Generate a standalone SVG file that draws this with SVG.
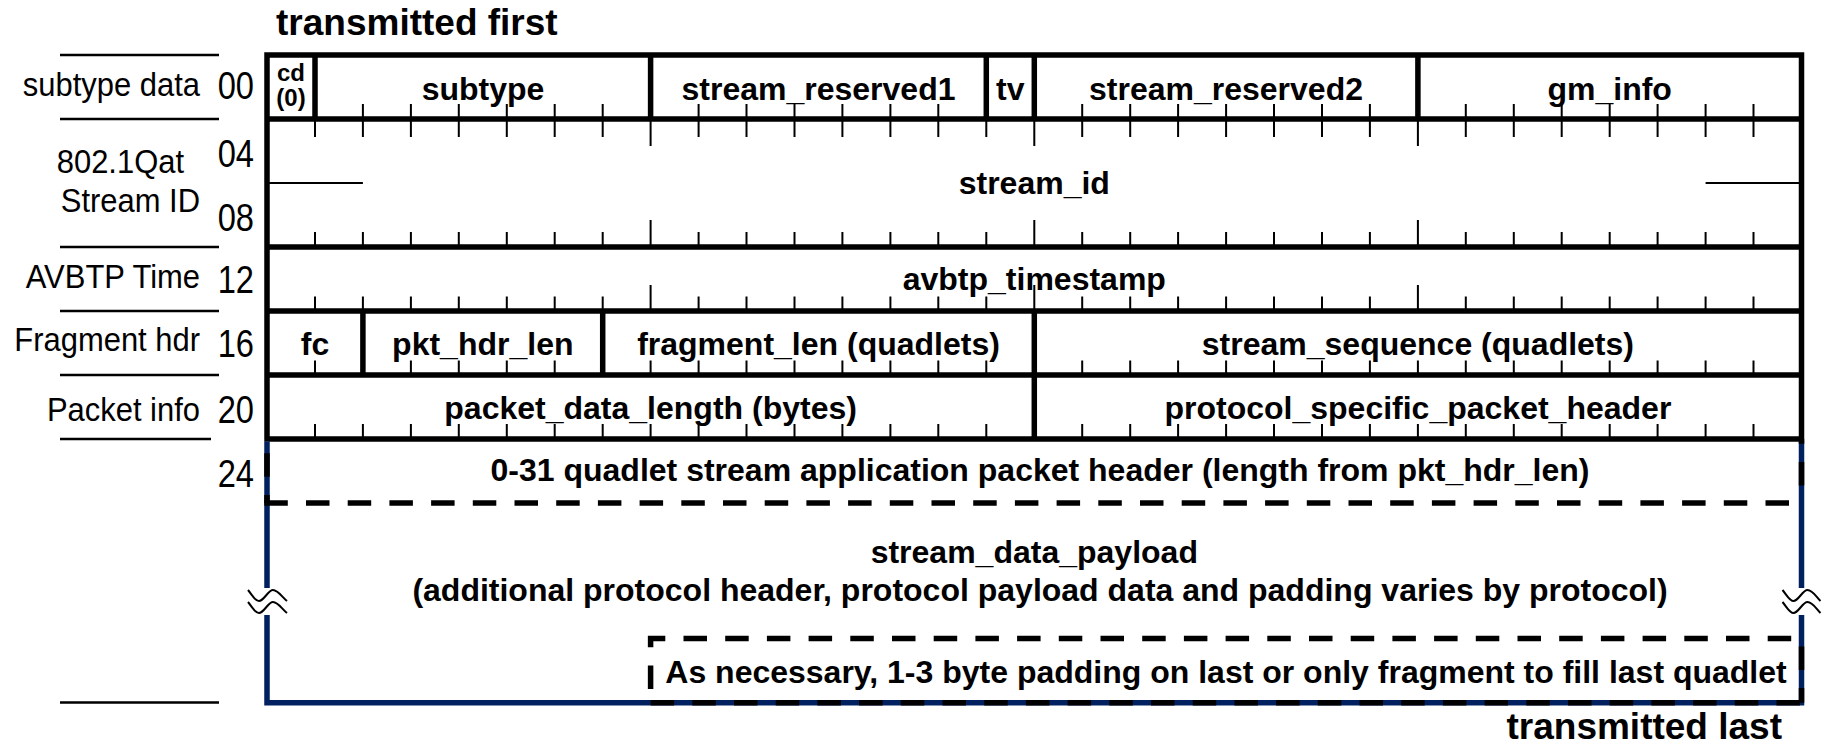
<svg xmlns="http://www.w3.org/2000/svg" width="1824" height="744" viewBox="0 0 1824 744">
<style>
.lbl{font-family:"Liberation Sans",Arial,sans-serif;font-size:34px;fill:#000;text-anchor:end}
.num{font-family:"Liberation Sans",Arial,sans-serif;font-size:38px;fill:#000;text-anchor:end}
.fld{font-family:"Liberation Sans",Arial,sans-serif;font-size:32px;font-weight:bold;fill:#000;text-anchor:middle}
.big{font-family:"Liberation Sans",Arial,sans-serif;font-size:37px;font-weight:bold;fill:#000}
.small{font-family:"Liberation Sans",Arial,sans-serif;font-size:24px;font-weight:bold;fill:#000;text-anchor:middle}
.sep{stroke:#000;stroke-width:2.5;fill:none}
.border{stroke:#000;stroke-width:5.5;fill:none}
.tick{stroke:#000;stroke-width:2;fill:none}
.navy{stroke:#002060;stroke-width:5.5;fill:none}
.dash{stroke:#000;stroke-width:5.5;fill:none;stroke-dasharray:23.5 18.2}
.wave{stroke:#000;stroke-width:2;fill:none}
</style>
<rect width="1824" height="744" fill="#fff"/>

<g id="titles">
<text class="big" x="276" y="35">transmitted first</text>
<text class="big" x="1782" y="739" text-anchor="end">transmitted last</text>
</g>

<g id="row-labels">
<path class="sep" d="M60,55 H219 M60,119 H219 M60,247 H219 M60,311 H219 M60,375 H219 M60,439 H211 M60,702.5 H219"/>
<text class="lbl" transform="translate(200,96) scale(0.91,1)">subtype data</text>
<text class="num" transform="translate(254,99) scale(0.86,1)">00</text>
<text class="lbl" transform="translate(184,173) scale(0.91,1)">802.1Qat</text>
<text class="num" transform="translate(254,167) scale(0.86,1)">04</text>
<text class="lbl" transform="translate(200,212) scale(0.91,1)">Stream ID</text>
<text class="num" transform="translate(254,231) scale(0.86,1)">08</text>
<text class="lbl" transform="translate(200,288) scale(0.91,1)">AVBTP Time</text>
<text class="num" transform="translate(254,293) scale(0.86,1)">12</text>
<text class="lbl" transform="translate(200,351) scale(0.91,1)">Fragment hdr</text>
<text class="num" transform="translate(254,357) scale(0.86,1)">16</text>
<text class="lbl" transform="translate(200,421) scale(0.91,1)">Packet info</text>
<text class="num" transform="translate(254,423) scale(0.86,1)">20</text>
<text class="num" transform="translate(254,487) scale(0.86,1)">24</text>
</g>

<g id="connectors">
<path class="border" d="M267,439 V55 H1801.5 V439 M267,119 H1801.5 M267,247 H1801.5 M267,311 H1801.5 M267,375 H1801.5 M264.3,439 H1804.2"/>
<path class="border" d="M315,55 V119 M650.6,55 V119 M986.3,55 V119 M1034.3,55 V119 M1417.9,55 V119 M362.9,311 V375 M602.7,311 V375 M1034.3,311 V439"/>
<path class="tick" d="M362.9,119V104 M410.9,119V104 M458.8,119V104 M506.8,119V104 M554.7,119V104 M602.7,119V104 M698.6,119V104 M746.5,119V104 M794.5,119V104 M842.4,119V104 M890.4,119V104 M938.3,119V104 M1082.2,119V104 M1130.2,119V104 M1178.1,119V104 M1226.1,119V104 M1274,119V104 M1322,119V104 M1369.9,119V104 M1465.8,119V104 M1513.8,119V104 M1561.7,119V104 M1609.7,119V104 M1657.6,119V104 M1705.6,119V104 M1753.5,119V104"/>
<path class="tick" d="M315,119V137 M362.9,119V137 M410.9,119V137 M458.8,119V137 M506.8,119V137 M554.7,119V137 M602.7,119V137 M650.6,119V146 M698.6,119V137 M746.5,119V137 M794.5,119V137 M842.4,119V137 M890.4,119V137 M938.3,119V137 M986.3,119V137 M1034.3,119V146 M1082.2,119V137 M1130.2,119V137 M1178.1,119V137 M1226.1,119V137 M1274,119V137 M1322,119V137 M1369.9,119V137 M1417.9,119V146 M1465.8,119V137 M1513.8,119V137 M1561.7,119V137 M1609.7,119V137 M1657.6,119V137 M1705.6,119V137 M1753.5,119V137"/>
<path class="tick" d="M315,247V232 M362.9,247V232 M410.9,247V232 M458.8,247V232 M506.8,247V232 M554.7,247V232 M602.7,247V232 M650.6,247V220 M698.6,247V232 M746.5,247V232 M794.5,247V232 M842.4,247V232 M890.4,247V232 M938.3,247V232 M986.3,247V232 M1034.3,247V220 M1082.2,247V232 M1130.2,247V232 M1178.1,247V232 M1226.1,247V232 M1274,247V232 M1322,247V232 M1369.9,247V232 M1417.9,247V220 M1465.8,247V232 M1513.8,247V232 M1561.7,247V232 M1609.7,247V232 M1657.6,247V232 M1705.6,247V232 M1753.5,247V232"/>
<path class="tick" d="M267,183 H362.9 M1705.6,183 H1801.5"/>
<path class="tick" d="M315,311V296.5 M362.9,311V296.5 M410.9,311V296.5 M458.8,311V296.5 M506.8,311V296.5 M554.7,311V296.5 M602.7,311V296.5 M650.6,311V285 M698.6,311V296.5 M746.5,311V296.5 M794.5,311V296.5 M842.4,311V296.5 M890.4,311V296.5 M938.3,311V296.5 M986.3,311V296.5 M1034.3,311V285 M1082.2,311V296.5 M1130.2,311V296.5 M1178.1,311V296.5 M1226.1,311V296.5 M1274,311V296.5 M1322,311V296.5 M1369.9,311V296.5 M1417.9,311V285 M1465.8,311V296.5 M1513.8,311V296.5 M1561.7,311V296.5 M1609.7,311V296.5 M1657.6,311V296.5 M1705.6,311V296.5 M1753.5,311V296.5"/>
<path class="tick" d="M315,375V360.5 M410.9,375V360.5 M458.8,375V360.5 M506.8,375V360.5 M554.7,375V360.5 M650.6,375V360.5 M698.6,375V360.5 M746.5,375V360.5 M794.5,375V360.5 M842.4,375V360.5 M890.4,375V360.5 M938.3,375V360.5 M986.3,375V360.5 M1082.2,375V360.5 M1130.2,375V360.5 M1178.1,375V360.5 M1226.1,375V360.5 M1274,375V360.5 M1322,375V360.5 M1369.9,375V360.5 M1417.9,375V360.5 M1465.8,375V360.5 M1513.8,375V360.5 M1561.7,375V360.5 M1609.7,375V360.5 M1657.6,375V360.5 M1705.6,375V360.5 M1753.5,375V360.5"/>
<path class="tick" d="M315,439V424 M362.9,439V424 M410.9,439V424 M458.8,439V424 M506.8,439V424 M554.7,439V424 M602.7,439V424 M650.6,439V424 M698.6,439V424 M746.5,439V424 M794.5,439V424 M842.4,439V424 M890.4,439V424 M938.3,439V424 M986.3,439V424 M1082.2,439V424 M1130.2,439V424 M1178.1,439V424 M1226.1,439V424 M1274,439V424 M1322,439V424 M1369.9,439V424 M1417.9,439V424 M1465.8,439V424 M1513.8,439V424 M1561.7,439V424 M1609.7,439V424 M1657.6,439V424 M1705.6,439V424 M1753.5,439V424"/>
<path class="navy" d="M267,441.5 V588 M267,615 V702.8 H1801.5 V615 M1801.5,588 V441.5"/>
<path class="dash" d="M267,439 V503" stroke-dashoffset="27.4"/>
<path class="dash" d="M1801.5,439 V503" stroke-dashoffset="18.8"/>
<path class="dash" d="M264.3,503 H1801.5"/>
<path class="dash" d="M650.6,702.8 V638.5 H1801.5 V702.8" stroke-dashoffset="27.9"/>
<path class="dash" d="M650.6,702.8 H1804.2"/>
<path class="wave" d="M248,590 C253,596 255,601 259,601 C264,601 268,590 273,590 C278,590 282,597 287,601 M248,602 C253,608 255,613 259,613 C264,613 268,602 273,602 C278,602 282,609 287,613"/>
<path class="wave" d="M1782.5,590 C1787.5,596 1789.5,601 1793.5,601 C1798.5,601 1802.5,590 1807.5,590 C1812.5,590 1816.5,597 1820.5,601 M1782.5,602 C1787.5,608 1789.5,613 1793.5,613 C1798.5,613 1802.5,602 1807.5,602 C1812.5,602 1816.5,609 1820.5,613"/>
</g>

<g id="node-cd"><text class="small" x="291" y="81">cd</text><text class="small" x="291" y="106">(0)</text></g>
<g id="node-subtype"><text class="fld" x="483" y="100">subtype</text></g>
<g id="node-stream_reserved1"><text class="fld" x="818.5" y="100">stream_reserved1</text></g>
<g id="node-tv"><text class="fld" x="1010.3" y="100">tv</text></g>
<g id="node-stream_reserved2"><text class="fld" x="1226" y="100">stream_reserved2</text></g>
<g id="node-gm_info"><text class="fld" x="1609.7" y="100">gm_info</text></g>
<g id="node-stream_id"><text class="fld" x="1034.3" y="194">stream_id</text></g>
<g id="node-avbtp_timestamp"><text class="fld" x="1034.3" y="290">avbtp_timestamp</text></g>
<g id="node-fc"><text class="fld" x="315" y="355">fc</text></g>
<g id="node-pkt_hdr_len"><text class="fld" x="482.8" y="355">pkt_hdr_len</text></g>
<g id="node-fragment_len"><text class="fld" x="818.5" y="355">fragment_len (quadlets)</text></g>
<g id="node-stream_sequence"><text class="fld" x="1417.9" y="355">stream_sequence (quadlets)</text></g>
<g id="node-packet_data_length"><text class="fld" x="650.6" y="419">packet_data_length (bytes)</text></g>
<g id="node-protocol_specific"><text class="fld" x="1417.9" y="419">protocol_specific_packet_header</text></g>
<g id="node-app_header"><text class="fld" x="1040" y="481">0-31 quadlet stream application packet header (length from pkt_hdr_len)</text></g>
<g id="node-payload"><text class="fld" x="1034.3" y="563">stream_data_payload</text><text class="fld" x="1040" y="601">(additional protocol header, protocol payload data and padding varies by protocol)</text></g>
<g id="node-padding"><text class="fld" x="1226" y="683">As necessary, 1-3 byte padding on last or only fragment to fill last quadlet</text></g>
</svg>
